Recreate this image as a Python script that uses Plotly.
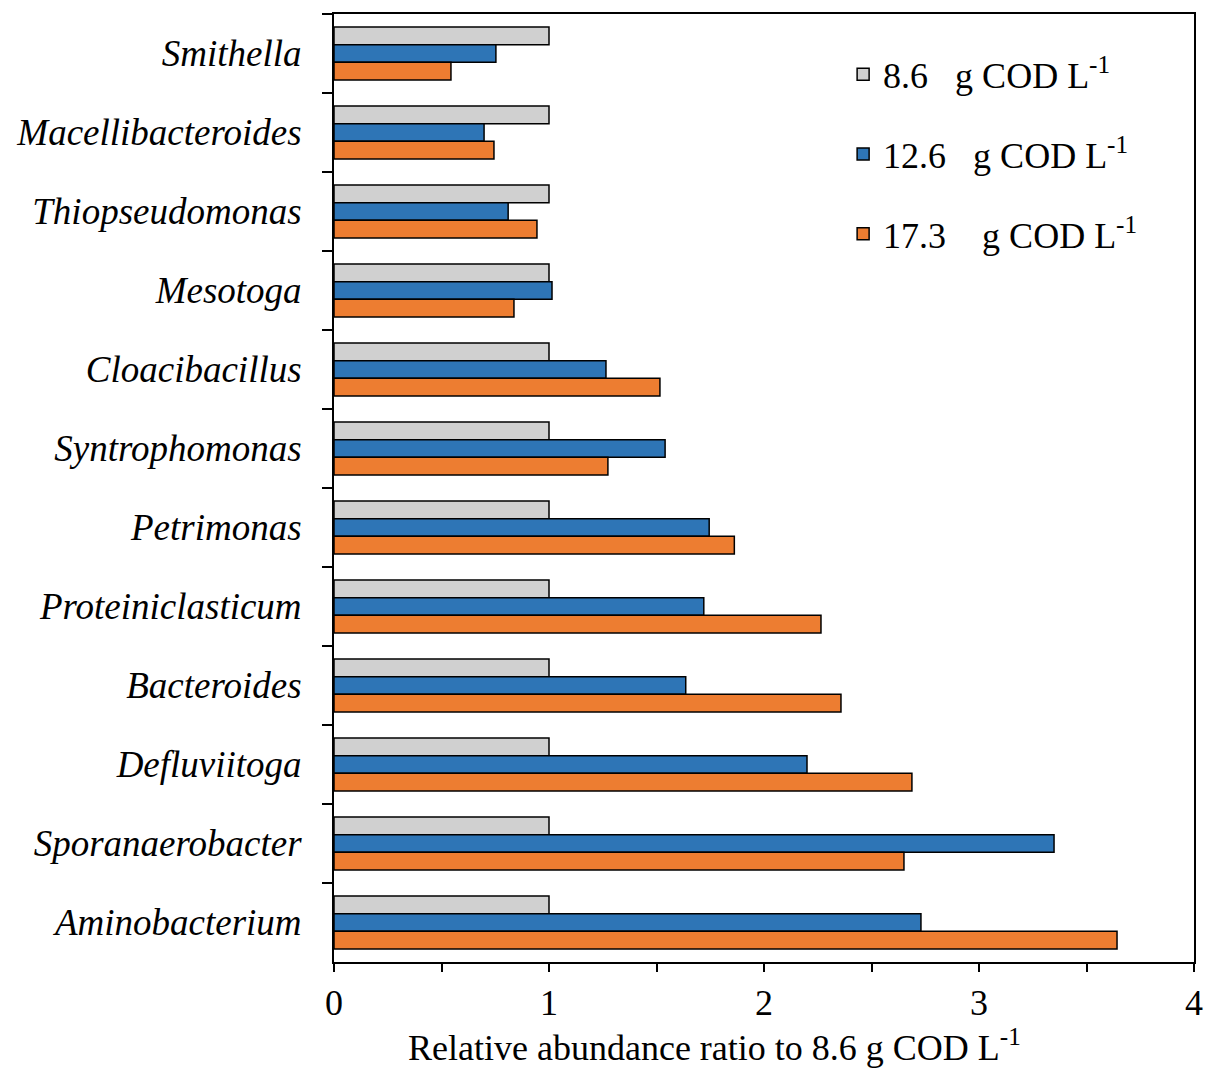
import plotly.graph_objects as go

genera = ["Smithella", "Macellibacteroides", "Thiopseudomonas", "Mesotoga",
          "Cloacibacillus", "Syntrophomonas", "Petrimonas", "Proteiniclasticum",
          "Bacteroides", "Defluviitoga", "Sporanaerobacter", "Aminobacterium"]
v86 = [1.0] * 12
v126 = [0.753, 0.698, 0.81, 1.014, 1.265, 1.54, 1.745, 1.72, 1.636, 2.2, 3.349, 2.73]
v173 = [0.544, 0.744, 0.944, 0.837, 1.516, 1.274, 1.862, 2.265, 2.358, 2.688, 2.651, 3.642]
series_names = ["8.6\u00a0\u00a0 g COD L<sup>-1</sup>",
                "12.6\u00a0\u00a0 g COD L<sup>-1</sup>",
                "17.3\u00a0\u00a0\u00a0 g COD L<sup>-1</sup>"]
colors = ["#d0d0d0", "#2e75b6", "#ed7d31"]
tick_vals = [0, 1, 2, 3, 4]
x_title = "Relative abundance ratio to 8.6 g COD L<sup>-1</sup>"

fig = go.Figure()
for i, (vals, name, col) in enumerate(zip([v86, v126, v173], series_names, colors)):
    fig.add_trace(go.Bar(
        y=genera, x=vals, name=name, orientation="h",
        marker=dict(color=col, line=dict(color="black", width=1.5)),
        legendgroup=f"g{i}",
    ))

font_family = "Liberation Serif, Times New Roman, serif"
fig.update_layout(
    width=1216, height=1076,
    margin=dict(l=334, r=22, t=14, b=114),
    plot_bgcolor="white", paper_bgcolor="white",
    barmode="group", bargap=0.33, bargroupgap=0,
    font=dict(family=font_family, size=36, color="black"),
    legend=dict(x=0.592, y=0.968, xanchor="left", yanchor="top",
                traceorder="grouped", tracegroupgap=30,
                font=dict(family=font_family, size=36, color="black"),
                bgcolor="rgba(0,0,0,0)"),
    showlegend=True,
    annotations=[dict(text=x_title, xref="paper", yref="paper",
                      x=0.443, y=-0.088, xanchor="center", yanchor="middle",
                      showarrow=False, font=dict(family=font_family, size=36))],
)
fig.update_xaxes(
    range=[0, 4], tickvals=tick_vals, ticktext=[str(v) for v in tick_vals],
    ticks="outside", ticklen=8, tickwidth=1.5, tickcolor="black",
    minor=dict(dtick=0.5, ticks="outside", ticklen=8, tickwidth=1.5, tickcolor="black"),
    showline=True, linecolor="black", linewidth=2, mirror=True,
    showgrid=False, zeroline=False,
    tickfont=dict(family=font_family, size=36),
)
fig.update_yaxes(
    autorange="reversed", type="category",
    tickson="boundaries", ticks="outside", ticklen=10, tickwidth=1.5, tickcolor="black",
    showline=True, linecolor="black", linewidth=2, mirror=True,
    showgrid=False, zeroline=False,
    tickfont=dict(family=font_family, size=37, style="italic"),
    ticklabelstandoff=23,
)
fig.write_html("out.html")
